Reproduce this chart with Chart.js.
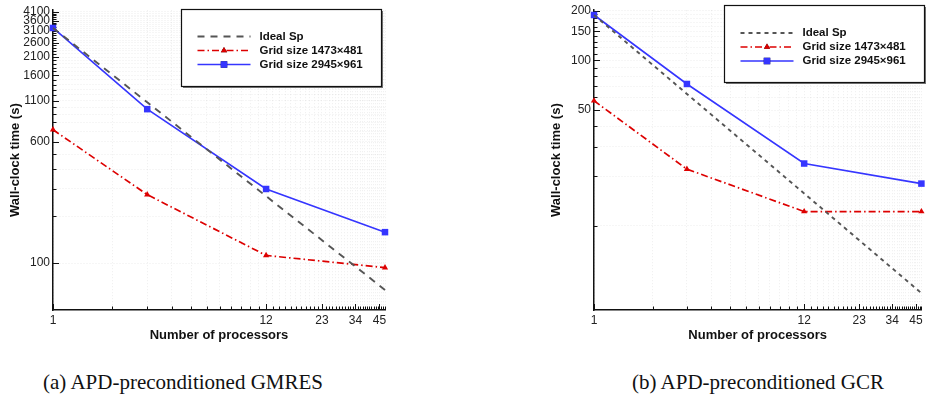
<!DOCTYPE html>
<html>
<head>
<meta charset="utf-8">
<script src="https://cdn.jsdelivr.net/npm/chart.js@4"></script>
<style>
  body { margin: 0; background: #fff; width: 926px; height: 407px; overflow: hidden; position: relative; }
  .panel { position: absolute; top: 0; width: 463px; height: 345px; }
  .caption { position: absolute; top: 370px; font-family: "Liberation Serif", serif; font-size: 21px;
             white-space: nowrap; transform: translateX(-50%); color: #111; }
</style>
</head>
<body>
<div class="panel" style="left:0"><canvas id="gmres" width="463" height="345"></canvas></div>
<div class="panel" style="left:463px"><canvas id="gcr" width="463" height="345"></canvas></div>
<div class="caption" style="left:183px">(a) APD-preconditioned GMRES</div>
<div class="caption" style="left:758px">(b) APD-preconditioned GCR</div>
<script>
/*** data ***/
const processors = [1, 3, 12, 48];

// GMRES, wall-clock time in seconds
const gmresIdeal = [3230, 1077, 269, 67.3];
const gmresSmall = [718, 275, 112, 93.5];
const gmresLarge = [3230, 973, 299, 158];

// GCR, wall-clock time in seconds
const gcrIdeal = [188, 62.7, 15.7, 3.92];
const gcrSmall = [57, 22, 12.2, 12.2];
const gcrLarge = [188, 72, 23.8, 18];

// labelled ticks
const xTickLabels = [1, 12, 23, 34, 45];
const gmresTickLabels = [100, 600, 1100, 1600, 2100, 2600, 3100, 3600, 4100];
const gcrTickLabels = [50, 100, 150, 200];

const sans = "'Liberation Sans', Arial, sans-serif";

function steps(from, to, step) {
  const out = [];
  for (let v = from; v <= to; v += step) out.push(v);
  return out;
}

function pairs(ys) {
  return processors.map((p, i) => ({ x: p, y: ys[i] }));
}

// log axis with a tick at every step, labels only on the listed values
function logAxis(min, max, tickValues, labels, title, titlePadding, extra) {
  return Object.assign({
    type: "logarithmic",
    min: min,
    max: max,
    afterBuildTicks: (s) => { s.ticks = tickValues.map((v) => ({ value: v })); },
    ticks: {
      autoSkip: false,
      maxRotation: 0,
      color: "#222",
      font: { family: sans, size: 12 },
      major: { enabled: false },
      callback: (v) => (labels.includes(v) ? String(v) : ""),
    },
    grid: { color: "rgba(0,0,0,0.07)", drawTicks: false },
    border: { display: true, color: "#111", width: 1.5, dash: [1, 2] },
    title: { display: true, text: title, color: "#111", font: { family: sans, size: 13, weight: "bold" }, padding: titlePadding },
  }, extra);
}

// small tick marks pointing into the plot
const inwardTicks = {
  id: "inwardTicks",
  beforeDatasetsDraw(chart, args, opts) {
    const { ctx, chartArea: a } = chart;
    ctx.save();
    ctx.strokeStyle = "#111";
    ctx.lineWidth = 1;
    ["x", "y"].forEach((id) => {
      const s = chart.scales[id];
      const labels = opts[id];
      s.ticks.forEach((t) => {
        const p = Math.round(s.getPixelForValue(t.value)) + 0.5;
        const len = labels.includes(t.value) ? 6 : 3.5;
        ctx.beginPath();
        if (id === "x") { ctx.moveTo(p, a.bottom); ctx.lineTo(p, a.bottom - len); }
        else { ctx.moveTo(a.left, p); ctx.lineTo(a.left + len, p); }
        ctx.stroke();
      });
    });
    ctx.restore();
  },
};

// framed legend drawn inside the plot
const boxedLegend = {
  id: "boxedLegend",
  afterDraw(chart, args, o) {
    const { ctx } = chart;
    ctx.save();
    ctx.fillStyle = "#777";
    ctx.fillRect(o.x + 1.5, o.y + 1.5, o.w, o.h);
    ctx.fillStyle = "#fff";
    ctx.fillRect(o.x, o.y, o.w, o.h);
    ctx.strokeStyle = "#111";
    ctx.lineWidth = 1.2;
    ctx.strokeRect(o.x, o.y, o.w, o.h);
    ctx.font = "bold 11.5px " + sans;
    ctx.textBaseline = "middle";
    ctx.fillStyle = "#111";
    chart.data.datasets.forEach((ds, i) => {
      const y = o.y + o.first + i * o.gap;
      const x0 = o.x + 16, x1 = o.x + 69;
      ctx.save();
      ctx.strokeStyle = ds.borderColor;
      ctx.lineWidth = ds.borderWidth;
      ctx.setLineDash(ds.borderDash || []);
      ctx.beginPath();
      ctx.moveTo(x0, y);
      ctx.lineTo(x1, y);
      ctx.stroke();
      ctx.restore();
      if (ds.pointRadius) {
        Chart.helpers.drawPoint(ctx, { pointStyle: ds.pointStyle, radius: ds.pointRadius, borderWidth: 0, rotation: 0 }, (x0 + x1) / 2, y);
        ctx.fillStyle = ds.pointBackgroundColor;
        ctx.fill();
        ctx.fillStyle = "#111";
      }
      ctx.fillText(ds.label, o.x + 78, y);
    });
    ctx.restore();
  },
};

function datasets(ideal, small, large, idealDash) {
  return [
    { label: "Ideal Sp", data: pairs(ideal), borderColor: "#555555", borderWidth: 1.9, borderDash: idealDash, pointRadius: 0, clip: false },
    { label: "Grid size 1473×481", data: pairs(small), borderColor: "#dd0000", borderWidth: 1.7, borderDash: [7, 3, 1.5, 3],
      pointStyle: "triangle", pointRadius: 3.6, pointBackgroundColor: "#dd0000", pointBorderColor: "#dd0000", pointBorderWidth: 0, clip: false },
    { label: "Grid size 2945×961", data: pairs(large), borderColor: "#3535ff", borderWidth: 1.6,
      pointStyle: "rect", pointRadius: 4.6, pointBackgroundColor: "#3535ff", pointBorderColor: "#3535ff", pointBorderWidth: 0, clip: false },
  ];
}

function makeChart(id, cfg) {
  return new Chart(document.getElementById(id), {
    type: "line",
    data: { datasets: datasets(cfg.ideal, cfg.small, cfg.large, cfg.idealDash) },
    options: {
      responsive: false,
      animation: false,
      devicePixelRatio: 1,
      events: [],
      layout: { padding: cfg.padding },
      scales: {
        x: logAxis(1, 48, steps(1, 48, 1), xTickLabels, "Number of processors", { top: 0, bottom: 2 },
          { afterFit: (s) => { s.height = 35; } }),
        y: logAxis(cfg.yMin, cfg.yMax, cfg.yTicks, cfg.yLabels, "Wall-clock time (s)", { top: cfg.yTitlePad, bottom: 0 },
          { afterFit: (s) => { s.width = cfg.yWidth; } }),
      },
      plugins: {
        legend: { display: false },
        tooltip: { enabled: false },
        inwardTicks: { x: xTickLabels, y: cfg.yLabels },
        boxedLegend: cfg.legend,
      },
    },
    plugins: [inwardTicks, boxedLegend],
  });
}

makeChart("gmres", {
  ideal: gmresIdeal, small: gmresSmall, large: gmresLarge, idealDash: [7, 6],
  yMin: 50, yMax: 4200, yTicks: steps(100, 4100, 100), yLabels: gmresTickLabels,
  yWidth: 53, yTitlePad: 8,
  padding: { left: 0, right: 78, top: 5, bottom: 0 },
  legend: { x: 181.5, y: 9.5, w: 200, h: 77, first: 27, gap: 14 },
});

makeChart("gcr", {
  ideal: gcrIdeal, small: gcrSmall, large: gcrLarge, idealDash: [4, 4],
  yMin: 3.1, yMax: 201, yTicks: steps(10, 200, 10), yLabels: gcrTickLabels,
  yWidth: 131, yTitlePad: 86,
  padding: { left: 0, right: 0, top: 5, bottom: 0 },
  legend: { x: 261.5, y: 5.5, w: 200, h: 77, first: 27.5, gap: 14 },
});
</script>
</body>
</html>
